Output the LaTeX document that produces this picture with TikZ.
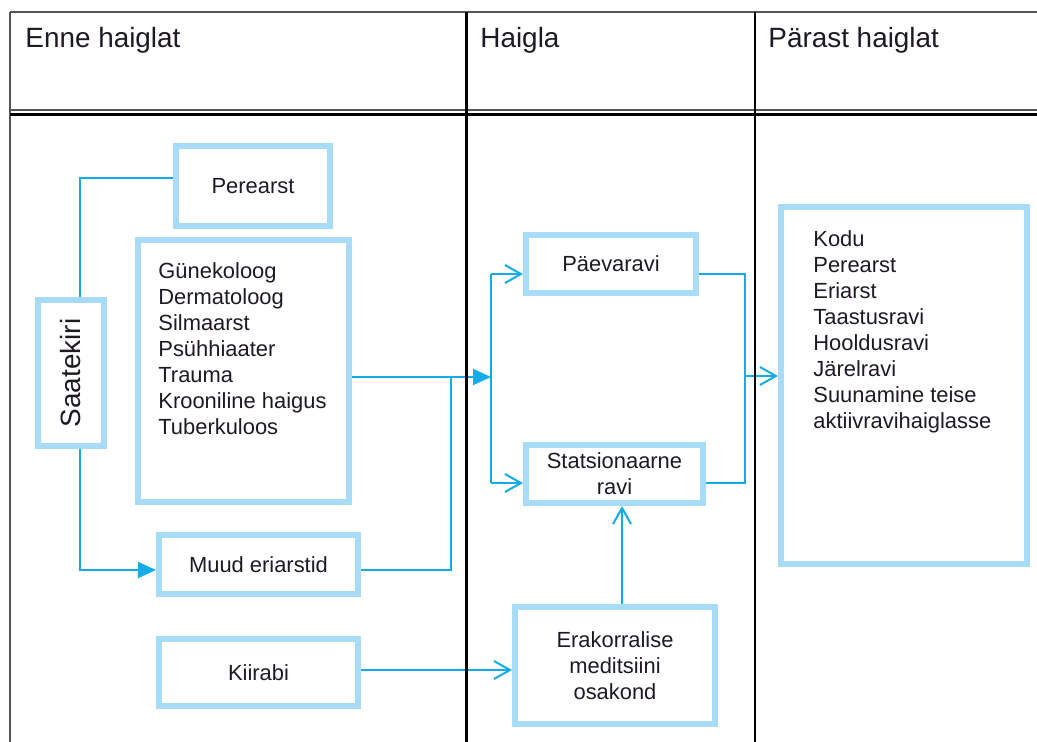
\documentclass[tikz,border=0pt]{standalone}
\usepackage{fontspec}
\setmainfont{Liberation Sans}
\usepackage{graphicx}
\usetikzlibrary{arrows.meta,calc}
\definecolor{boxblue}{RGB}{168,220,246}
\definecolor{linkblue}{RGB}{20,172,230}
\definecolor{rulegray}{RGB}{85,85,85}
\definecolor{inkc}{RGB}{30,25,35}
\begin{document}
\begin{tikzpicture}[x=0.5bp,y=-0.5bp,
  box/.style={draw=boxblue, line width=3bp, inner sep=0pt, fill=white, text=inkc,
    font=\fontsize{11}{13}\selectfont, align=center},
  link/.style={draw=linkblue, line width=1bp},
  openarr/.style={-{Straight Barb[length=8bp,width=9bp]}},
  fillarr/.style={-{Triangle[length=9bp,width=8bp]}},
  txt/.style={inner sep=0pt, text=inkc, font=\fontsize{11}{13}\selectfont, align=left},
  head/.style={inner sep=0pt, text=inkc, font=\fontsize{14}{16}\selectfont, anchor=base west},
  thinrule/.style={draw=rulegray, line width=1bp},
  thickrule/.style={draw=black, line width=1.5bp}]
\useasboundingbox (0,0) rectangle (1037,742);

% headers
\node[head] (h1) at (25,47) {Enne haiglat};
\node[head] (h2) at (480,47) {Haigla};
\node[head] (h3) at (768,47) {Pärast haiglat};

% boxes
\node[box, minimum width=77bp, minimum height=40bp] (pere) at (253,186) {Perearst};
\node[box, minimum width=105.5bp, minimum height=131bp] (spec) at (243.5,371) {};
\node[txt, anchor=base west] (spectext) at (158,434) {Günekoloog\\Dermatoloog\\Silmaarst\\Psühhiaater\\Trauma\\Krooniline haigus\\Tuberkuloos};
\node[box, minimum width=33bp, minimum height=73bp, font=\fontsize{14}{16}\selectfont] (saat) at (71,373) {\rotatebox{90}{Saatekiri}};
\node[box, minimum width=99.5bp, minimum height=29.5bp] (muud) at (258.5,564.5) {Muud eriarstid};
\node[box, minimum width=99.5bp, minimum height=33.5bp] (kiir) at (258.5,672.5) {Kiirabi};
\node[box, minimum width=85bp, minimum height=29bp] (paev) at (611,264) {Päevaravi};
\node[box, minimum width=88.5bp, minimum height=29bp] (stat) at (614.5,474) {Statsionaarne\\ravi};
\node[box, minimum width=100bp, minimum height=58.5bp] (erak) at (615,665.5) {Erakorralise\\meditsiini\\osakond};
\node[box, minimum width=123bp, minimum height=178.5bp] (res) at (904,385.5) {};
\node[txt, anchor=base west] (restext) at (813,428) {Kodu\\Perearst\\Eriarst\\Taastusravi\\Hooldusravi\\Järelravi\\Suunamine teise\\aktiivravihaiglasse};

% connector coordinates
\coordinate (j1) at (80,178);
\coordinate (j2) at (80,570);
\coordinate (j3) at (451,377);
\coordinate (hin) at (491,377);
\coordinate (pa) at (491,274);
\coordinate (sa) at (491,483);
\coordinate (r1) at (745,274);
\coordinate (r2) at (745,483);
\coordinate (r3) at (745,376);
\coordinate (e1) at (622,600);
\coordinate (k1) at (400,670);

% connectors
\draw[link] (saat.north -| j1) |- (pere.west |- j1);
\draw[link, fillarr] (saat.south -| j2) |- (muud.west |- j2);
\draw[link, fillarr] (spec.east |- j3) -- (hin);
\draw[link] (muud.east |- j2) -| (j3);
\draw[link] (pa) -- (sa);
\draw[link, openarr] (pa) -- (paev.west |- pa);
\draw[link, openarr] (sa) -- (stat.west |- sa);
\draw[link] (paev.east |- r1) -| (r2) -- (stat.east |- r2);
\draw[link, openarr] (r3) -- (res.west |- r3);
\draw[link, openarr] (erak.north -| e1) -- (stat.south -| e1);
\draw[link, openarr] (kiir.east |- k1) -- (erak.west |- k1);

% table rules
\draw[thinrule] (10,12) -- (1037,12);
\draw[thinrule] (10,12) -- (10,742);
\draw[draw=rulegray, line width=0.6bp] (10,110) -- (1037,110);
\draw[thickrule] (10,114) -- (1037,114);
\draw[thickrule] (466,12) -- (466,742);
\draw[draw=black, line width=1bp] (755,12) -- (755,742);
\end{tikzpicture}
\end{document}
